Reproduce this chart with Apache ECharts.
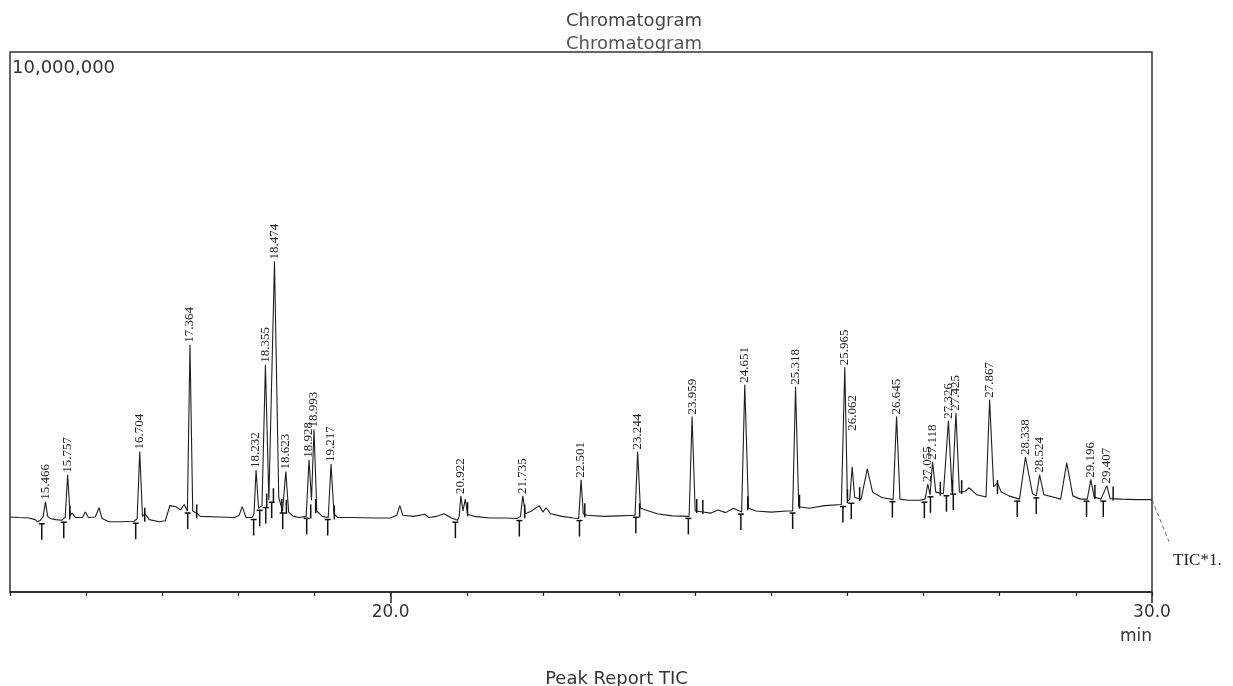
<!DOCTYPE html>
<html><head><meta charset="utf-8">
<script src="https://cdn.jsdelivr.net/npm/echarts@6/dist/echarts.min.js"></script>
<style>html,body{margin:0;padding:0;background:#fff}#c{width:1233px;height:686px}</style>
</head><body><div id="c"></div>
<script>
// ---------- data ----------
const titleText = 'Chromatogram';
const footerText = 'Peak Report TIC';
const yTopLabel = '10,000,000';
const traceName = 'TIC*1.';
const unitName = 'min';
const xRange = [15, 30];
const yMax = 10000000;
const xTickLabels = [20, 30];

// retention time (min), intensity
const traceData = [
[15.000,1390000],[15.120,1380000],[15.250,1370000],[15.330,1340000],[15.360,1300000],[15.400,1330000],[15.435,1400000],[15.466,1670000],[15.495,1400000],[15.530,1360000],[15.600,1340000],[15.680,1330000],[15.725,1380000],[15.757,2170000],[15.790,1420000],[15.815,1460000],[15.860,1380000],[15.950,1380000],[15.990,1480000],[16.030,1380000],[16.120,1390000],[16.170,1560000],[16.210,1360000],[16.300,1300000],[16.450,1300000],[16.630,1310000],[16.670,1360000],[16.704,2600000],[16.740,1400000],[16.775,1450000],[16.830,1340000],[16.960,1300000],[17.040,1320000],[17.100,1600000],[17.180,1580000],[17.240,1520000],[17.290,1620000],[17.330,1500000],[17.364,4580000],[17.400,1500000],[17.450,1460000],[17.500,1400000],[17.750,1390000],[17.950,1380000],[18.010,1420000],[18.050,1580000],[18.100,1380000],[18.180,1380000],[18.205,1450000],[18.232,2260000],[18.265,1550000],[18.310,1600000],[18.355,4210000],[18.400,1700000],[18.474,6120000],[18.530,1750000],[18.580,1500000],[18.623,2230000],[18.660,1480000],[18.720,1400000],[18.800,1380000],[18.890,1400000],[18.928,2450000],[18.960,1700000],[18.993,3010000],[19.030,1500000],[19.100,1400000],[19.180,1380000],[19.217,2370000],[19.255,1450000],[19.300,1380000],[19.500,1380000],[19.800,1370000],[20.000,1370000],[20.080,1420000],[20.120,1600000],[20.160,1420000],[20.300,1400000],[20.450,1440000],[20.500,1380000],[20.600,1400000],[20.700,1450000],[20.800,1370000],[20.880,1330000],[20.900,1400000],[20.922,1780000],[20.950,1500000],[20.980,1720000],[21.010,1440000],[21.100,1400000],[21.300,1370000],[21.500,1370000],[21.660,1360000],[21.705,1400000],[21.735,1780000],[21.770,1450000],[21.850,1500000],[21.950,1600000],[22.000,1480000],[22.040,1560000],[22.100,1450000],[22.250,1400000],[22.400,1370000],[22.470,1360000],[22.501,2080000],[22.530,1450000],[22.580,1420000],[22.800,1400000],[23.000,1410000],[23.210,1420000],[23.244,2600000],[23.280,1550000],[23.350,1520000],[23.500,1450000],[23.700,1410000],[23.920,1400000],[23.959,3250000],[24.000,1500000],[24.100,1480000],[24.200,1460000],[24.300,1520000],[24.400,1470000],[24.500,1550000],[24.610,1480000],[24.651,3840000],[24.700,1550000],[24.800,1500000],[25.000,1480000],[25.200,1500000],[25.280,1500000],[25.318,3800000],[25.360,1580000],[25.500,1550000],[25.700,1600000],[25.920,1620000],[25.965,4160000],[26.000,1680000],[26.030,1720000],[26.062,2320000],[26.095,1750000],[26.180,1720000],[26.260,2280000],[26.330,1850000],[26.450,1750000],[26.600,1710000],[26.645,3250000],[26.690,1720000],[26.800,1700000],[26.950,1700000],[27.020,1720000],[27.055,2000000],[27.085,1800000],[27.118,2410000],[27.160,1850000],[27.260,1820000],[27.326,3170000],[27.375,1850000],[27.425,3320000],[27.470,1850000],[27.540,1860000],[27.600,1930000],[27.700,1800000],[27.820,1760000],[27.867,3560000],[27.920,1950000],[27.970,2020000],[28.020,1850000],[28.120,1780000],[28.260,1720000],[28.338,2500000],[28.430,1820000],[28.480,1780000],[28.524,2170000],[28.580,1800000],[28.700,1760000],[28.800,1720000],[28.880,2390000],[28.960,1780000],[29.060,1720000],[29.150,1720000],[29.196,2080000],[29.240,1760000],[29.330,1720000],[29.407,1970000],[29.450,1730000],[29.600,1720000],[29.800,1710000],[30.000,1710000]
];

const peakTimes = [15.466,15.757,16.704,17.364,18.232,18.355,18.474,18.623,18.928,18.993,19.217,20.922,21.735,22.501,23.244,23.959,24.651,25.318,25.965,26.062,26.645,27.055,27.118,27.326,27.425,27.867,28.338,28.524,29.196,29.407];
const peakLabels = ['15.466','15.757','16.704','17.364','18.232','18.355','18.474','18.623','18.928','18.993','19.217','20.922','21.735','22.501','23.244','23.959','24.651','25.318','25.965','26.062','26.645','27.055','27.118','27.326','27.425','27.867','28.338','28.524','29.196','29.407'];

// integration marks (min)
const startMarks = [15.417,15.706,16.651,17.334,18.200,18.280,18.359,18.437,18.582,18.897,19.173,20.850,21.690,22.480,23.220,23.910,24.600,25.280,25.940,26.050,26.590,27.010,27.090,27.300,27.390,28.230,28.480,29.140,29.360];
const endMarks = [15.785,16.770,17.452,18.372,18.460,18.570,18.630,18.950,19.015,19.260,21.010,21.760,22.550,23.270,24.020,24.100,24.690,25.370,26.000,26.160,27.220,27.380,27.500,27.970,29.250,29.490];

// ---------- styling ----------
const labelLift = { '26.062': 34 };
const INK = '#1e1e1e';

function valueAt(t) {
  for (const p of traceData) if (Math.abs(p[0] - t) < 1e-9) return p[1];
  return 0;
}
function localBase(t) {
  let m = Infinity, best = null, bd = Infinity;
  for (const p of traceData) {
    const d = Math.abs(p[0] - t);
    if (d <= 0.07) m = Math.min(m, p[1]);
    if (d < bd) { bd = d; best = p[1]; }
  }
  return m === Infinity ? best : m;
}

const peakData = peakTimes.map((t, i) => [t, valueAt(t), i]);
const markData = startMarks.map(t => [t, localBase(t), 0]).concat(endMarks.map(t => [t, localBase(t), 1]));

const chart = echarts.init(document.getElementById('c'), null, { renderer: 'canvas' });
const gridBox = { left: 10, right: 81, top: 52, bottom: 94 };

chart.setOption({
  backgroundColor: '#ffffff',
  animation: false,
  grid: Object.assign({ show: true, borderColor: '#333', borderWidth: 1.5, backgroundColor: 'transparent', containLabel: false, outerBoundsMode: 'none' }, gridBox),
  xAxis: [{
    type: 'value', min: xRange[0], max: xRange[1], interval: 1, position: 'bottom',
    axisLine: { show: true, lineStyle: { color: '#222', width: 1.5 } },
    axisTick: { show: true, length: 4, lineStyle: { color: '#222', width: 1.2 } },
    axisLabel: { show: false }, splitLine: { show: false }
  }, {
    type: 'value', min: xRange[0], max: xRange[1], position: 'bottom', gridIndex: 0,
    axisLine: { show: false },
    axisTick: { show: true, length: 11, customValues: xTickLabels, lineStyle: { color: '#222', width: 1.5 } },
    axisLabel: { show: true, customValues: xTickLabels, margin: 12, formatter: v => Number(v).toFixed(1),
      fontFamily: 'DejaVu Sans', fontSize: 17, color: '#333' },
    splitLine: { show: false }
  }],
  yAxis: { type: 'value', min: 0, max: yMax, show: false, splitLine: { show: false } },
  series: [{
    type: 'line', name: traceName, data: traceData, showSymbol: false, symbol: 'none',
    lineStyle: { color: INK, width: 1.1 }, clip: true, z: 3
  }, {
    type: 'custom', data: peakData, z: 4,
    renderItem: function (params, api) {
      const p = api.coord([api.value(0), api.value(1)]);
      const txt = peakLabels[api.value(2)];
      const lift = 2 + (labelLift[txt] || 0);
      return {
        type: 'text', x: p[0], y: p[1] - lift, rotation: Math.PI / 2,
        style: { text: txt, font: '13px "Liberation Serif"', fill: '#222', align: 'left', verticalAlign: 'middle' }
      };
    }
  }, {
    type: 'custom', data: markData, z: 5,
    renderItem: function (params, api) {
      const p = api.coord([api.value(0), api.value(1)]);
      const st = { stroke: '#111', lineWidth: 1.5 };
      if (api.value(2) === 0) {
        return { type: 'group', children: [
          { type: 'line', shape: { x1: p[0] - 3, y1: p[1] + 2, x2: p[0] + 3, y2: p[1] + 2 }, style: st },
          { type: 'line', shape: { x1: p[0], y1: p[1] + 2, x2: p[0], y2: p[1] + 18 }, style: st }
        ]};
      }
      return { type: 'line', shape: { x1: p[0], y1: p[1] + 2, x2: p[0], y2: p[1] - 12 }, style: st };
    }
  }]
});

const last = traceData[traceData.length - 1];
const endPx = chart.convertToPixel({ xAxisIndex: 0, yAxisIndex: 0 }, last);
const gRight = 1233 - gridBox.right;

chart.setOption({
  graphic: [
    { type: 'text', left: 566, top: 12, z: 10, style: { text: titleText, font: '18px "DejaVu Sans"', fill: '#444' } },
    { type: 'text', left: 566, top: 35, z: 10, style: { text: titleText, font: '18px "DejaVu Sans"', fill: '#555' } },
    { type: 'text', left: 12, top: 59, z: 10, style: { text: yTopLabel, font: '18px "DejaVu Sans"', fill: '#333' } },
    { type: 'text', z: 10, x: gRight, y: 637, style: { text: unitName, font: '17px "DejaVu Sans"', fill: '#333', align: 'right', verticalAlign: 'middle' } },
    { type: 'line', z: 10, shape: { x1: endPx[0], y1: endPx[1], x2: endPx[0] + 17, y2: endPx[1] + 42 }, style: { stroke: '#666', lineWidth: 1, lineDash: [4, 3] } },
    { type: 'text', z: 10, x: endPx[0] + 21, y: 561, style: { text: traceName, font: '17px "Liberation Serif"', fill: '#222', verticalAlign: 'middle' } },
    { type: 'text', left: 'center', top: 670, z: 10, style: { text: footerText, font: '18px "DejaVu Sans"', fill: '#333' } }
  ]
});
</script>
</body></html>
